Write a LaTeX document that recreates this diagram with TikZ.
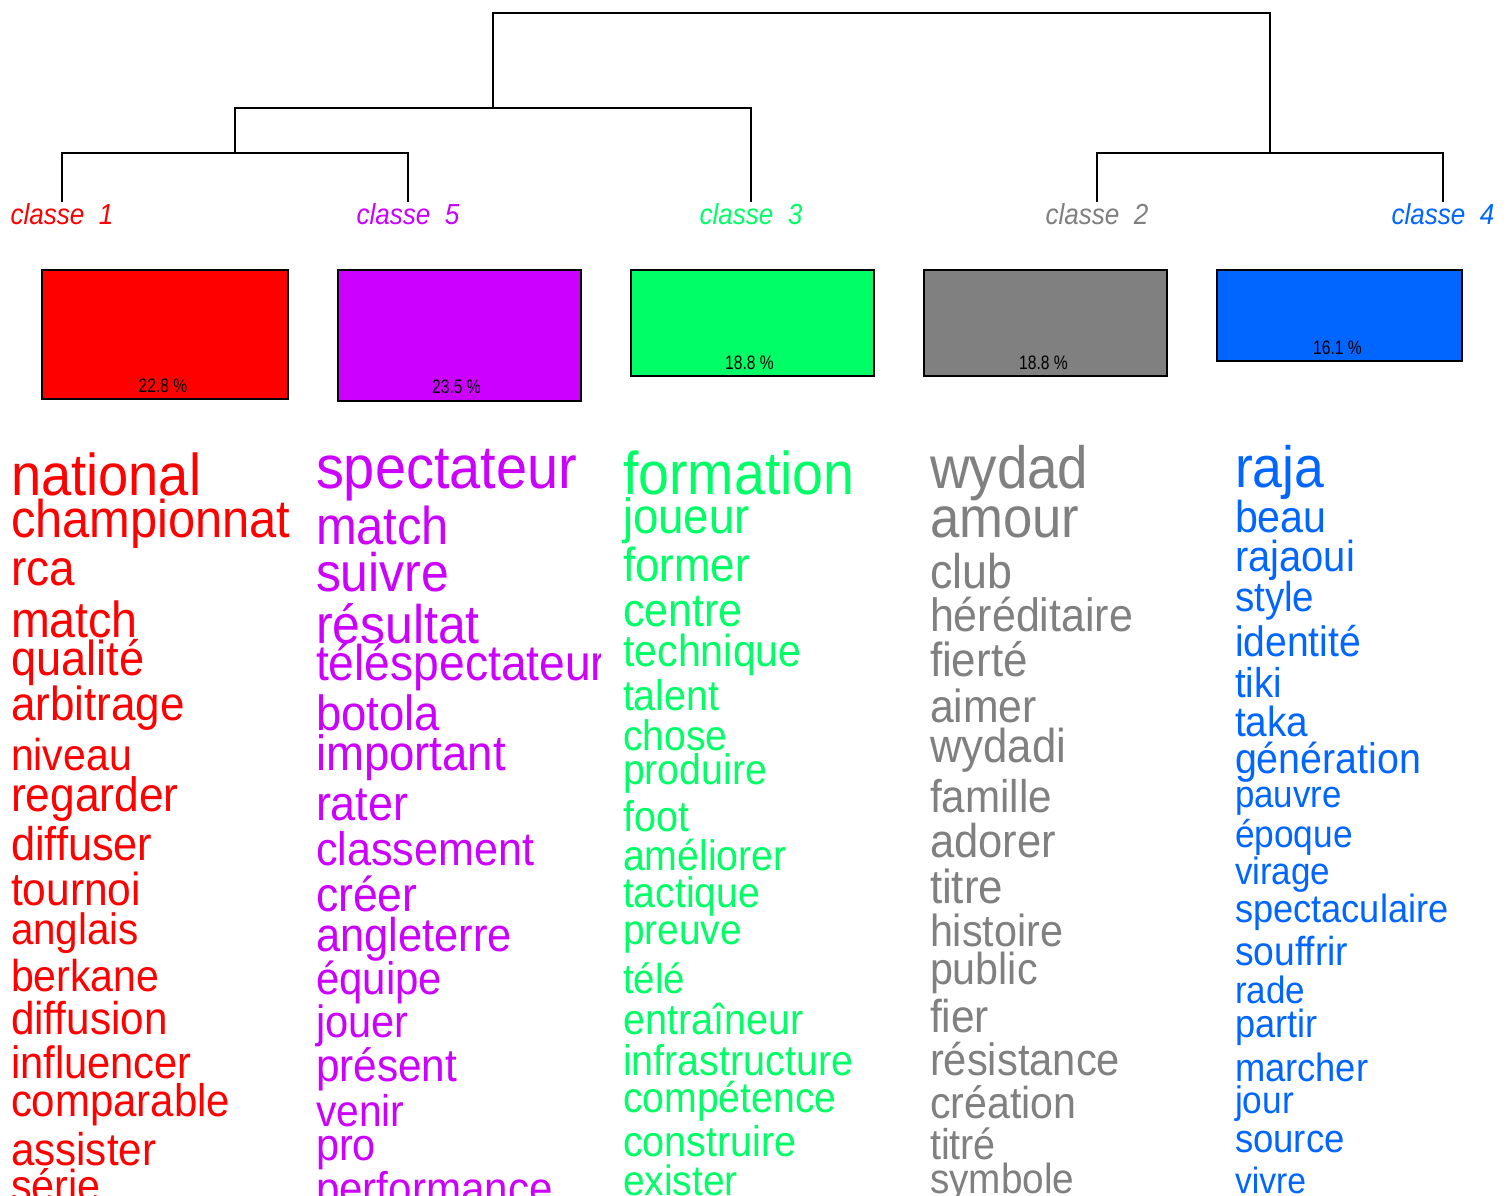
\documentclass[tikz,border=0pt]{standalone}
\usepackage{fontspec}
\setmainfont{Liberation Sans}
\newfontfamily\wordfont[FakeStretch=0.92]{Liberation Sans}
\newfontfamily\pctfont[FakeStretch=0.8]{Liberation Sans}
\newfontfamily\labfont[FakeStretch=0.9]{Liberation Sans}
\definecolor{cA}{HTML}{FF0000}
\definecolor{cB}{HTML}{CC00FF}
\definecolor{cC}{HTML}{00FF66}
\definecolor{cD}{HTML}{808080}
\definecolor{cE}{HTML}{0066FF}
\tikzset{
  word/.style={anchor=base west, inner sep=0pt, outer sep=0pt},
  lab/.style={anchor=base, inner sep=0pt, font=\labfont\itshape\fontsize{29}{29}\selectfont},
  pct/.style={anchor=base, inner sep=0pt, text=black, font=\pctfont\fontsize{19.5}{19.5}\selectfont},
  cbox/.style={draw=black, line width=2pt, inner sep=0pt},
  dend/.style={line width=1.6pt, draw=black},
}
\newcommand\wordcolumn[4]{%
  \foreach \s/\b/\t [count=\i] in {#4} {
    \pgfmathsetmacro\fz{\s*1.005}
    \node[word, text=#3, font=\wordfont\fontsize{\fz}{\fz}\selectfont] (w#1-\i) at (#2,\b) {\t};
  }}
\begin{document}
\begin{tikzpicture}[x=1pt,y=-1pt]
\useasboundingbox (0,0) rectangle (1510,1196);
\fill[white] (0,0) rectangle (1510,1196);

% dendrogram
\coordinate (L1) at (62,202);
\coordinate (L5) at (408,202);
\coordinate (L3) at (751,202);
\coordinate (L2) at (1097,202);
\coordinate (L4) at (1443,202);
\coordinate (n15) at (235,153);
\coordinate (n153) at (493,108);
\coordinate (n24) at (1270,153);
\coordinate (root) at (881.5,13);
\draw[dend] (L1) |- (n15) -| (L5);
\draw[dend] (n15) |- (n153) -| (L3);
\draw[dend] (n153) |- (root) -| (n24);
\draw[dend] (L2) |- (n24) -| (L4);

% class labels
\node[lab, text=cA] (lab1) at (62,224) {classe\ \ 1};
\node[lab, text=cB] (lab5) at (408,224) {classe\ \ 5};
\node[lab, text=cC] (lab3) at (751,224) {classe\ \ 3};
\node[lab, text=cD] (lab2) at (1097,224) {classe\ \ 2};
\node[lab, text=cE] (lab4) at (1443,224) {classe\ \ 4};

% boxes
\node[cbox, fill=cA, minimum width=246pt, minimum height=129pt] (b1) at (165,334.5) {};
\node[cbox, fill=cB, minimum width=243pt, minimum height=131pt] (b5) at (459.5,335.5) {};
\node[cbox, fill=cC, minimum width=243pt, minimum height=106pt] (b3) at (752.5,323) {};
\node[cbox, fill=cD, minimum width=243pt, minimum height=106pt] (b2) at (1045.5,323) {};
\node[cbox, fill=cE, minimum width=245pt, minimum height=91pt] (b4) at (1339.5,315.5) {};
\node[pct] (p1) at ([xshift=-2pt,yshift=8pt]b1.south) {22.8 \%};
\node[pct] (p5) at ([xshift=-3pt,yshift=9pt]b5.south) {23.5 \%};
\node[pct] (p3) at ([xshift=-3pt,yshift=8pt]b3.south) {18.8 \%};
\node[pct] (p2) at ([xshift=-2pt,yshift=8pt]b2.south) {18.8 \%};
\node[pct] (p4) at ([xshift=-2pt,yshift=8pt]b4.south) {16.1 \%};

% word columns
\wordcolumn{a}{11}{cA}{58.7/495/national, 52.8/537/championnat, 49.8/585/rca, 50.4/637/match,
  48.9/675/qualité, 47.6/720/arbitrage, 44.4/770/niveau, 48.0/811/regarder, 46.9/860/diffuser,
  46.0/905/tournoi, 43.7/944/anglais, 44.4/991/berkane, 45.7/1034/diffusion, 45.1/1078/influencer,
  45.4/1116/comparable, 45.6/1165/assister, 44.6/1201/série}

\begin{scope}
\clip (305,420) rectangle (600,1196);
\wordcolumn{b}{316}{cB}{60.5/488/spectateur, 52.9/544/match, 54.0/591/suivre, 54.0/643/résultat,
  50.0/680/téléspectateur, 49.2/730/botola, 49.3/770/important, 48.6/820/rater, 46.7/865/classement,
  48.2/911/créer, 47.1/951/angleterre, 45.4/994/équipe, 45.0/1037/jouer, 45.8/1081/présent,
  44.1/1126/venir, 44.9/1160/pro, 45.6/1204/performance}
\end{scope}

\wordcolumn{c}{623}{cC}{60.1/494/formation, 49.4/533/joueur, 47.5/581/former, 46.7/626/centre,
  44.6/666/technique, 42.7/710/talent, 42.4/750/chose, 42.5/784/produire, 42.8/831/foot,
  42.5/870/améliorer, 42.4/907/tactique, 42.1/944/preuve, 41.6/993/télé, 42.9/1034/entraîneur,
  42.7/1075/infrastructure, 42.4/1112/compétence, 42.8/1156/construire, 42.2/1195/exister}

\wordcolumn{d}{930}{cD}{59.3/488/wydad, 57.0/537/amour, 48.5/588/club, 46.5/631/héréditaire,
  47.5/676/fierté, 46.2/722/aimer, 47.3/762/wydadi, 45.6/812/famille, 47.1/857/adorer,
  47.5/903/titre, 44.7/946/histoire, 44.6/984/public, 45.9/1032/fier, 45.1/1075/résistance,
  44.5/1118/création, 42.8/1159/titré, 41.9/1193/symbole}

\wordcolumn{e}{1235}{cE}{58.0/487/raja, 44.5/532/beau, 43.2/571/rajaoui, 41.7/611/style,
  42.3/656/identité, 41.4/697/tiki, 41.9/736/taka, 42.6/773/génération, 37.7/807/pauvre,
  38.2/847/époque, 37.9/884/virage, 39.2/922/spectaculaire, 40.3/965/souffrir, 37.9/1003/rade,
  39.1/1037/partir, 39.3/1081/marcher, 38.2/1113/jour, 39.5/1152/source, 36.4/1193/vivre}
\end{tikzpicture}
\end{document}
